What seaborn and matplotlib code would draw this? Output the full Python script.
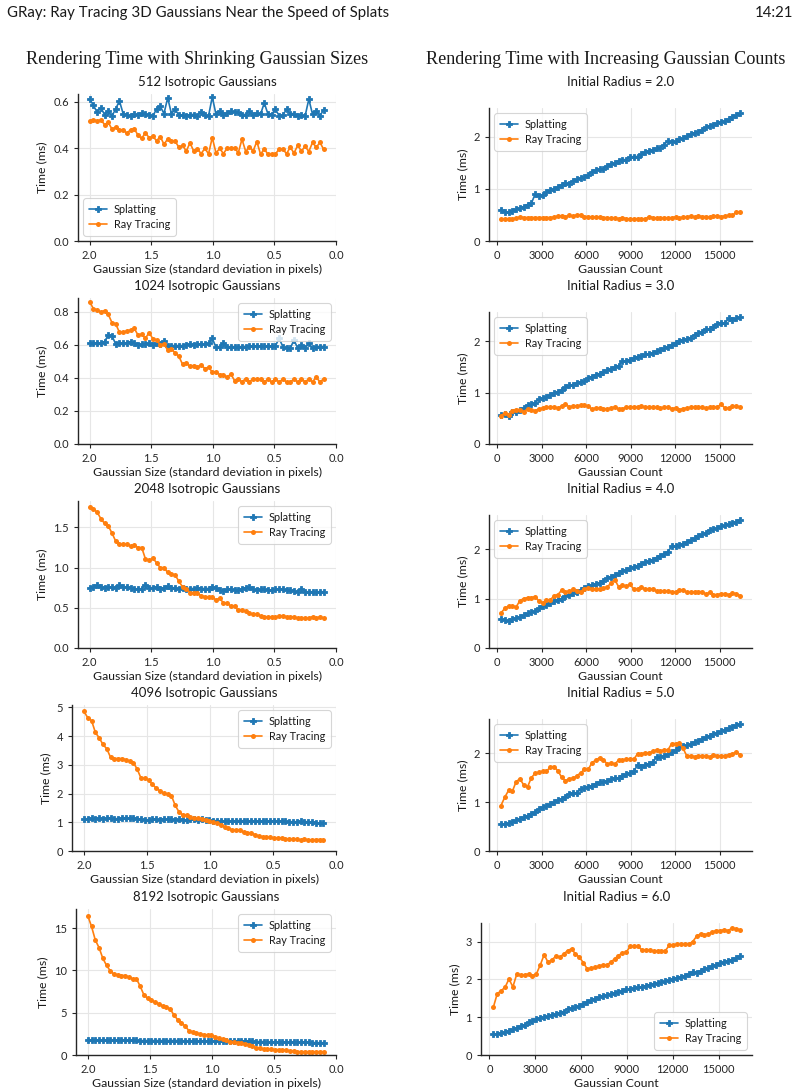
import numpy as np
import pandas as pd
import matplotlib
matplotlib.use("Agg")
import matplotlib.pyplot as plt
import seaborn as sns

# ---------------- data ----------------
sizes = np.linspace(2.0, 0.1, 64)           # Gaussian size grid (x, left column)
counts = np.arange(256, 16384 + 1, 256)      # Gaussian count grid (x, right column)

left_titles = ["512 Isotropic Gaussians", "1024 Isotropic Gaussians", "2048 Isotropic Gaussians",
               "4096 Isotropic Gaussians", "8192 Isotropic Gaussians"]
right_titles = ["Initial Radius = 2.0", "Initial Radius = 3.0", "Initial Radius = 4.0",
                "Initial Radius = 5.0", "Initial Radius = 6.0"]

splat_512 = [0.61,0.584,0.553,0.573,0.544,0.558,0.538,0.568,0.603,0.548,0.541,0.537,0.545,0.542,0.549,0.546,
             0.542,0.537,0.568,0.579,0.548,0.616,0.548,0.566,0.542,0.540,0.538,0.544,0.544,0.538,0.554,0.542,
             0.538,0.62,0.545,0.558,0.544,0.551,0.558,0.555,0.553,0.544,0.544,0.558,0.540,0.551,0.545,0.594,
             0.546,0.544,0.568,0.538,0.542,0.566,0.548,0.548,0.537,0.540,0.538,0.61,0.545,0.56,0.538,0.565]
ray_512 = [0.517,0.521,0.517,0.521,0.501,0.510,0.481,0.490,0.477,0.479,0.463,0.479,0.483,0.455,0.441,0.466,
           0.444,0.451,0.431,0.449,0.416,0.439,0.429,0.430,0.403,0.411,0.387,0.422,0.387,0.396,0.376,0.398,
           0.375,0.445,0.379,0.398,0.376,0.399,0.398,0.401,0.379,0.438,0.385,0.405,0.387,0.428,0.373,0.396,
           0.373,0.373,0.373,0.396,0.396,0.375,0.404,0.378,0.411,0.387,0.407,0.385,0.424,0.403,0.424,0.394]

splat_1024 = [0.61,0.61,0.61,0.61,0.62,0.66,0.655,0.605,0.612,0.612,0.612,0.62,0.61,0.60,0.605,0.605,
              0.612,0.60,0.61,0.605,0.622,0.596,0.596,0.596,0.596,0.596,0.60,0.605,0.60,0.605,0.605,0.605,
              0.61,0.64,0.586,0.586,0.61,0.586,0.586,0.586,0.586,0.59,0.59,0.594,0.594,0.594,0.594,0.594,
              0.594,0.594,0.594,0.64,0.59,0.58,0.58,0.63,0.58,0.60,0.58,0.61,0.58,0.59,0.59,0.59]
ray_1024 = [0.86,0.82,0.812,0.80,0.808,0.785,0.735,0.727,0.677,0.677,0.685,0.69,0.70,0.66,0.665,0.64,
            0.675,0.637,0.63,0.60,0.604,0.57,0.575,0.552,0.531,0.483,0.49,0.471,0.475,0.467,0.479,0.457,
            0.465,0.436,0.436,0.42,0.42,0.404,0.424,0.384,0.396,0.376,0.396,0.376,0.396,0.392,0.392,0.376,
            0.392,0.376,0.392,0.376,0.392,0.376,0.376,0.392,0.376,0.396,0.376,0.394,0.376,0.406,0.374,0.396]

splat_2048 = [0.75,0.76,0.78,0.76,0.75,0.76,0.76,0.75,0.78,0.76,0.76,0.75,0.74,0.73,0.74,0.79,
              0.75,0.75,0.76,0.74,0.75,0.77,0.75,0.75,0.73,0.75,0.74,0.74,0.74,0.75,0.74,0.74,
              0.74,0.76,0.75,0.72,0.71,0.73,0.73,0.72,0.72,0.74,0.75,0.76,0.73,0.72,0.73,0.73,
              0.72,0.72,0.73,0.73,0.73,0.72,0.72,0.71,0.70,0.74,0.70,0.70,0.70,0.70,0.70,0.70]
ray_2048 = [1.76,1.73,1.69,1.61,1.55,1.52,1.43,1.33,1.29,1.29,1.29,1.27,1.28,1.25,1.25,1.11,
            1.09,1.12,1.06,1.00,1.00,0.94,0.92,0.91,0.83,0.76,0.74,0.69,0.69,0.68,0.65,0.64,
            0.63,0.63,0.60,0.62,0.56,0.56,0.52,0.52,0.47,0.47,0.46,0.43,0.42,0.42,0.40,0.39,
            0.38,0.39,0.38,0.40,0.40,0.39,0.38,0.39,0.37,0.37,0.37,0.37,0.39,0.37,0.39,0.37]

splat_4096 = [1.10,1.13,1.14,1.13,1.15,1.13,1.14,1.16,1.12,1.13,1.15,1.16,1.14,1.16,1.13,1.10,
              1.09,1.07,1.10,1.10,1.09,1.12,1.12,1.11,1.07,1.10,1.08,1.08,1.10,1.11,1.09,1.10,
              1.08,1.07,1.06,1.05,1.05,1.05,1.05,1.05,1.05,1.06,1.05,1.05,1.04,1.05,1.04,1.04,
              1.05,1.04,1.04,1.04,1.03,1.03,1.02,1.02,1.02,1.03,1.02,1.02,1.01,0.99,0.97,0.96]
ray_4096 = [4.86,4.64,4.54,4.13,3.94,3.71,3.56,3.26,3.22,3.22,3.22,3.18,3.13,3.08,2.85,2.54,
            2.53,2.47,2.32,2.19,2.09,2.01,1.98,1.93,1.59,1.36,1.26,1.24,1.17,1.15,1.14,1.13,
            1.07,1.03,1.01,0.97,0.92,0.84,0.79,0.74,0.72,0.72,0.66,0.64,0.63,0.57,0.52,0.50,
            0.48,0.48,0.45,0.46,0.45,0.43,0.41,0.41,0.41,0.39,0.42,0.38,0.38,0.40,0.40,0.37]

splat_8192 = [1.75,1.75,1.78,1.78,1.75,1.75,1.78,1.78,1.78,1.78,1.78,1.76,1.73,1.72,1.70,1.70,
              1.70,1.70,1.70,1.70,1.70,1.70,1.70,1.70,1.70,1.68,1.68,1.68,1.68,1.68,1.68,1.66,
              1.66,1.66,1.66,1.64,1.64,1.64,1.62,1.62,1.62,1.62,1.60,1.60,1.60,1.58,1.58,1.58,
              1.56,1.56,1.55,1.54,1.53,1.52,1.52,1.51,1.50,1.49,1.48,1.48,1.47,1.46,1.45,1.45]
ray_8192 = [16.46,15.2,13.6,12.7,11.45,10.6,9.95,9.55,9.5,9.4,9.4,9.2,9.0,9.0,8.13,7.1,
            6.7,6.5,6.24,6.04,5.8,5.64,5.45,4.74,4.18,3.79,3.43,2.88,2.72,2.57,2.49,2.41,
            2.37,2.33,2.17,1.97,1.90,1.74,1.58,1.50,1.46,1.38,1.30,1.22,1.03,0.87,0.79,0.71,
            0.67,0.67,0.63,0.63,0.59,0.55,0.47,0.43,0.39,0.39,0.39,0.39,0.39,0.39,0.39,0.39]

splat_r2 = [0.60,0.56,0.55,0.58,0.61,0.63,0.66,0.70,0.72,0.90,0.86,0.89,0.94,0.97,1.00,1.04,
            1.08,1.11,1.10,1.16,1.18,1.21,1.23,1.26,1.33,1.36,1.38,1.38,1.44,1.48,1.49,1.54,
            1.56,1.56,1.61,1.62,1.62,1.66,1.71,1.73,1.75,1.78,1.79,1.85,1.92,1.90,1.91,1.96,
            1.97,2.01,2.05,2.08,2.10,2.13,2.18,2.21,2.23,2.26,2.29,2.30,2.34,2.38,2.41,2.45]
ray_r2 = [0.42,0.42,0.43,0.43,0.44,0.46,0.45,0.45,0.45,0.45,0.45,0.45,0.45,0.45,0.46,0.48,
          0.48,0.47,0.49,0.48,0.50,0.50,0.47,0.47,0.46,0.46,0.46,0.45,0.45,0.44,0.44,0.43,
          0.45,0.43,0.42,0.42,0.43,0.42,0.42,0.47,0.45,0.44,0.44,0.45,0.44,0.45,0.46,0.44,
          0.46,0.46,0.48,0.46,0.48,0.47,0.47,0.46,0.48,0.48,0.47,0.48,0.49,0.49,0.56,0.55]

splat_r3 = [0.57,0.58,0.55,0.62,0.63,0.67,0.70,0.75,0.77,0.80,0.87,0.90,0.92,0.96,0.99,1.02,
            1.05,1.11,1.14,1.15,1.19,1.21,1.22,1.29,1.31,1.35,1.37,1.40,1.43,1.46,1.50,1.52,
            1.62,1.61,1.64,1.67,1.70,1.72,1.74,1.75,1.77,1.80,1.83,1.86,1.89,1.93,1.97,2.00,
            2.03,2.04,2.07,2.12,2.15,2.18,2.23,2.24,2.27,2.34,2.36,2.35,2.44,2.42,2.44,2.47]
ray_r3 = [0.55,0.60,0.57,0.65,0.67,0.67,0.63,0.68,0.66,0.65,0.68,0.70,0.71,0.72,0.72,0.70,
          0.74,0.78,0.72,0.74,0.74,0.75,0.76,0.73,0.68,0.70,0.70,0.69,0.68,0.70,0.72,0.68,
          0.69,0.71,0.72,0.72,0.72,0.73,0.72,0.72,0.71,0.71,0.70,0.71,0.72,0.69,0.70,0.67,
          0.69,0.70,0.71,0.72,0.71,0.71,0.70,0.71,0.72,0.72,0.77,0.70,0.70,0.73,0.73,0.72]

splat_r4 = [0.58,0.56,0.55,0.58,0.61,0.63,0.66,0.70,0.72,0.75,0.80,0.86,0.88,0.92,0.96,0.98,
            1.00,1.06,1.08,1.12,1.13,1.18,1.22,1.26,1.28,1.30,1.32,1.36,1.42,1.44,1.47,1.51,
            1.56,1.58,1.61,1.64,1.66,1.70,1.74,1.76,1.79,1.83,1.86,1.91,1.95,2.06,2.06,2.08,
            2.11,2.15,2.18,2.22,2.26,2.30,2.33,2.38,2.40,2.43,2.46,2.48,2.50,2.53,2.56,2.59]
ray_r4 = [0.71,0.80,0.85,0.85,0.83,0.96,1.00,1.02,1.02,1.04,0.95,0.92,0.97,0.97,1.06,1.08,
          1.17,1.14,1.15,1.19,1.15,1.14,1.20,1.21,1.19,1.19,1.20,1.22,1.23,1.32,1.38,1.24,
          1.27,1.25,1.29,1.19,1.20,1.24,1.19,1.19,1.20,1.15,1.15,1.15,1.15,1.14,1.13,1.17,
          1.17,1.13,1.13,1.14,1.14,1.14,1.09,1.13,1.08,1.08,1.10,1.10,1.08,1.11,1.10,1.06]

splat_r5 = [0.55,0.55,0.57,0.60,0.63,0.66,0.69,0.72,0.76,0.80,0.86,0.90,0.92,0.96,1.00,1.04,
            1.07,1.11,1.17,1.19,1.19,1.26,1.29,1.32,1.34,1.38,1.41,1.42,1.44,1.47,1.50,1.49,
            1.54,1.57,1.60,1.63,1.76,1.73,1.76,1.79,1.82,1.92,1.92,1.95,1.98,2.02,2.06,2.13,
            2.14,2.16,2.19,2.23,2.26,2.29,2.33,2.36,2.39,2.42,2.45,2.48,2.51,2.54,2.57,2.60]
ray_r5 = [0.93,1.10,1.24,1.22,1.42,1.48,1.35,1.31,1.50,1.59,1.61,1.63,1.63,1.72,1.73,1.64,
          1.51,1.44,1.48,1.49,1.54,1.60,1.67,1.67,1.81,1.86,1.91,1.87,1.78,1.80,1.78,1.86,
          1.86,1.88,1.88,1.88,1.99,1.99,2.01,2.01,2.04,2.07,2.05,2.07,2.07,2.20,2.20,2.21,
          2.10,1.94,1.95,1.93,1.95,1.95,1.95,1.93,1.97,1.95,1.95,1.95,1.97,1.99,2.03,1.97]

splat_r6 = [0.55,0.56,0.58,0.61,0.64,0.68,0.72,0.76,0.80,0.86,0.90,0.96,0.99,1.00,1.02,1.06,
            1.08,1.12,1.15,1.22,1.24,1.26,1.30,1.36,1.40,1.45,1.49,1.53,1.56,1.58,1.61,1.64,
            1.67,1.70,1.75,1.74,1.77,1.79,1.81,1.83,1.86,1.88,1.90,1.92,1.95,1.98,2.02,2.04,
            2.07,2.10,2.14,2.20,2.18,2.23,2.27,2.30,2.36,2.38,2.42,2.46,2.49,2.52,2.56,2.62]
ray_r6 = [1.26,1.62,1.70,1.79,2.01,1.80,2.14,2.12,2.12,2.14,2.10,2.14,2.38,2.65,2.45,2.52,
          2.61,2.59,2.67,2.76,2.81,2.67,2.59,2.44,2.28,2.29,2.32,2.35,2.38,2.38,2.45,2.54,
          2.63,2.70,2.72,2.87,2.87,2.87,2.78,2.78,2.78,2.74,2.76,2.74,2.76,2.90,2.91,2.93,
          2.93,2.93,2.93,3.00,3.14,3.20,3.18,3.20,3.25,3.29,3.29,3.31,3.29,3.35,3.34,3.31]

left_splat = [splat_512, splat_1024, splat_2048, splat_4096, splat_8192]
left_ray = [ray_512, ray_1024, ray_2048, ray_4096, ray_8192]
right_splat = [splat_r2, splat_r3, splat_r4, splat_r5, splat_r6]
right_ray = [ray_r2, ray_r3, ray_r4, ray_r5, ray_r6]

left_yticks = [[0.0, 0.2, 0.4, 0.6], [0.0, 0.2, 0.4, 0.6, 0.8], [0.0, 0.5, 1.0, 1.5],
               [0, 1, 2, 3, 4, 5], [0, 5, 10, 15]]
left_yfmt = ["{:.1f}", "{:.1f}", "{:.1f}", "{:.0f}", "{:.0f}"]
left_legend_loc = ["lower left", "upper right", "upper right", "upper right", "upper right"]
right_legend_loc = ["upper left", "upper left", "upper left", "upper left", "lower right"]
right_yticks = [[0, 1, 2], [0, 1, 2], [0, 1, 2], [0, 1, 2], [0, 1, 2, 3]]

# ---------------- style ----------------
sns.set_theme(style="whitegrid")
SANS = ["Lato", "DejaVu Sans"]
plt.rcParams["font.family"] = SANS
plt.rcParams.update({
    "axes.edgecolor": "0.15",
    "axes.linewidth": 1.0,
    "grid.color": "0.9",
    "grid.linewidth": 0.8,
    "xtick.bottom": True, "ytick.left": True,
    "xtick.major.size": 3, "ytick.major.size": 3,
    "xtick.major.width": 0.8, "ytick.major.width": 0.8,
    "xtick.color": "0.15", "ytick.color": "0.15",
    "xtick.labelsize": 8, "ytick.labelsize": 8,
    "axes.labelsize": 8.8, "axes.titlesize": 9.5,
    "legend.fontsize": 7.8,
    "text.color": "0.1", "axes.labelcolor": "0.1",
})

BLUE = "#1f77b4"
ORANGE = "#ff7f0e"

W, H = 800, 1090
fig = plt.figure(figsize=(W / 100, H / 100), dpi=100)

def px_axes(x0, x1, y0, y1):
    return fig.add_axes([x0 / W, 1 - y1 / H, (x1 - x0) / W, (y1 - y0) / H])

left_tops = [94, 298, 501, 705, 909]
left_bots = [241, 444, 648, 851, 1055]
left_x0 = [78, 78, 78, 72, 76]
right_tops = [108, 312, 515, 719, 923]
right_x0 = [489, 489, 489, 489, 481]

def draw(ax, x, s, r, loc):
    df = pd.DataFrame({"x": list(x) * 2,
                       "t": list(s) + list(r),
                       "m": ["Splatting"] * len(s) + ["Ray Tracing"] * len(r)})
    sns.lineplot(data=df[df.m == "Splatting"], x="x", y="t", ax=ax, color=BLUE,
                 marker="P", markersize=4.2, markeredgewidth=0.6, markeredgecolor=BLUE,
                 linewidth=1.2, label="Splatting")
    sns.lineplot(data=df[df.m == "Ray Tracing"], x="x", y="t", ax=ax, color=ORANGE,
                 marker="o", markersize=3.6, markeredgewidth=0, linewidth=1.2, label="Ray Tracing")
    leg = ax.legend(loc=loc, frameon=True, fancybox=True, borderpad=0.5, handlelength=1.7,
                    handletextpad=0.6, labelspacing=0.4)
    leg.get_frame().set_edgecolor("0.8")
    leg.get_frame().set_linewidth(0.8)
    sns.despine(ax=ax)
    ax.set_ylabel("Time (ms)")

for i in range(5):
    # left column
    ax = px_axes(left_x0[i], 336, left_tops[i], left_bots[i])
    draw(ax, sizes, left_splat[i], left_ray[i], left_legend_loc[i])
    ax.set_ylim(bottom=0)
    ax.invert_xaxis()
    ax.set_xticks([2.0, 1.5, 1.0, 0.5, 0.0])
    ax.set_xticklabels(["2.0", "1.5", "1.0", "0.5", "0.0"])
    ax.set_yticks(left_yticks[i])
    ax.set_yticklabels([left_yfmt[i].format(v) for v in left_yticks[i]])
    ax.set_xlabel("Gaussian Size (standard deviation in pixels)", labelpad=2)
    ax.set_title(left_titles[i], pad=6)
    # right column
    ax = px_axes(right_x0[i], 752, right_tops[i], left_bots[i])
    draw(ax, counts, right_splat[i], right_ray[i], right_legend_loc[i])
    ax.set_ylim(bottom=0)
    ax.set_xticks([0, 3000, 6000, 9000, 12000, 15000])
    ax.set_xticklabels(["0", "3000", "6000", "9000", "12000", "15000"])
    ax.set_yticks(right_yticks[i])
    ax.set_xlabel("Gaussian Count", labelpad=2)
    ax.set_title(right_titles[i], pad=16)

fig.text(7 / W, 1 - 13 / H, "GRay: Ray Tracing 3D Gaussians Near the Speed of Splats",
         fontsize=10.8, va="center", ha="left", family=SANS)
fig.text(793 / W, 1 - 13 / H, "14:21", fontsize=10.8, va="center", ha="right", family=SANS)
SERIF = ["Liberation Serif", "DejaVu Serif"]
fig.text(197 / W, 1 - 60 / H, "Rendering Time with Shrinking Gaussian Sizes",
         fontsize=13.1, va="center", ha="center", family=SERIF)
fig.text(606 / W, 1 - 60 / H, "Rendering Time with Increasing Gaussian Counts",
         fontsize=13.1, va="center", ha="center", family=SERIF)

fig.savefig("out.png", dpi=100)
